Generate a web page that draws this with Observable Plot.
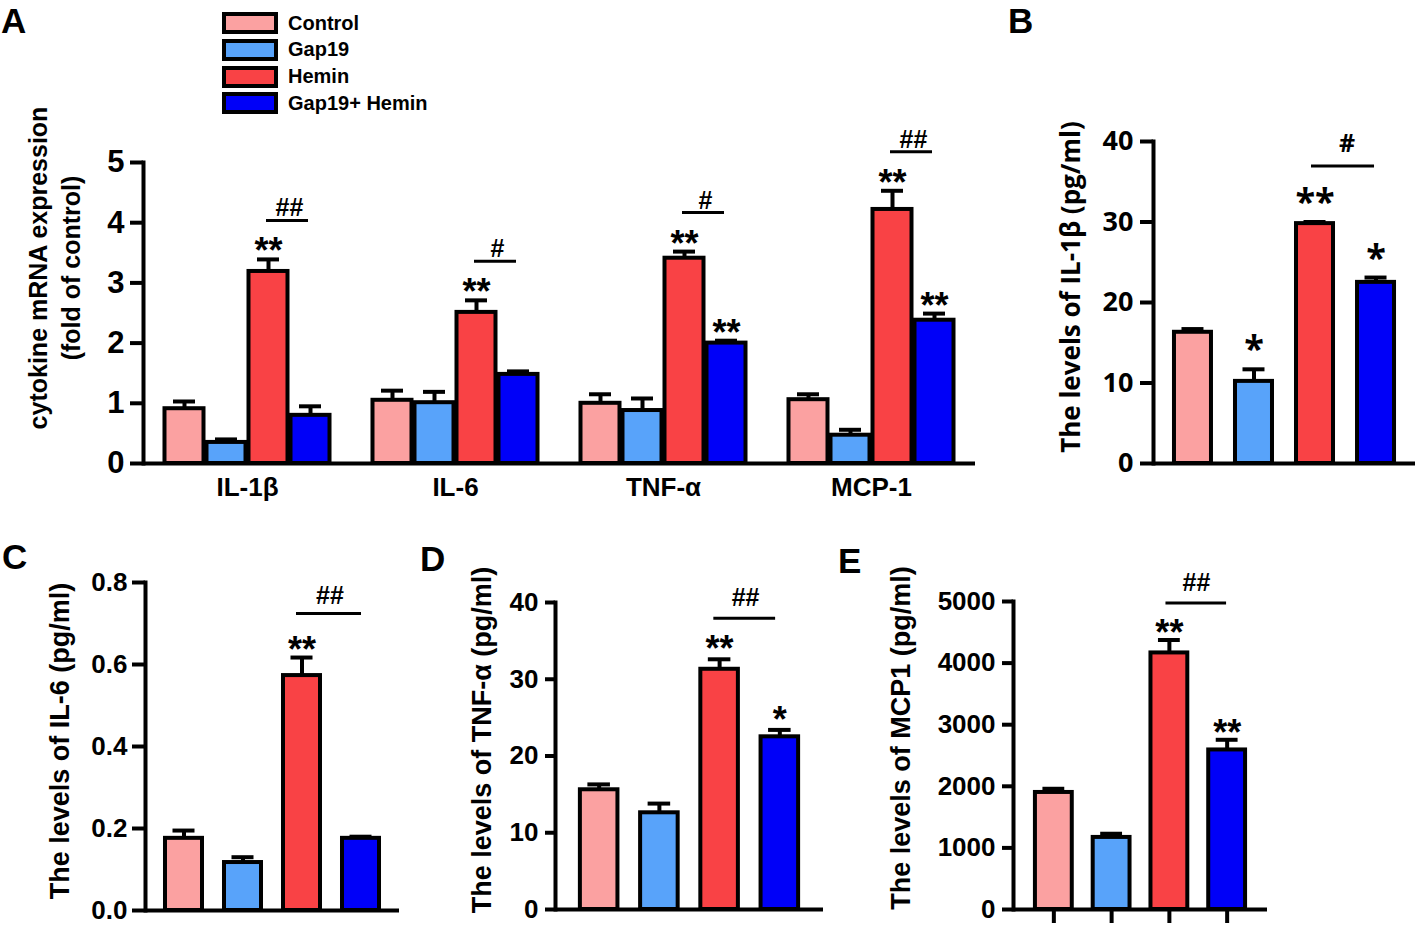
<!DOCTYPE html>
<html><head><meta charset="utf-8">
<script src="https://cdn.jsdelivr.net/npm/d3@7"></script>
<script src="https://cdn.jsdelivr.net/npm/@observablehq/plot@0.6"></script>
<style>
body{margin:0;background:#fff;}
#fig{position:relative;width:1418px;height:926px;overflow:hidden;font-family:"Liberation Sans",Arial,sans-serif;font-weight:bold;color:#000;background:#fff;}
.panel{position:absolute;}
.letter{position:absolute;font-size:35px;line-height:42px;font-weight:bold;}
.ylab{position:absolute;white-space:nowrap;text-align:center;transform:translate(-50%,-50%) rotate(-90deg);font-weight:bold;}
.leg{position:absolute;display:flex;align-items:center;font-size:20px;font-weight:bold;height:22px;}
.sw{width:56px;height:22px;box-sizing:border-box;border:4px solid #000;margin-right:10px;}
</style></head><body><div id="fig"></div>
<script>
// ---------- data ----------
const groups = ["Control", "Gap19", "Hemin", "Gap19+ Hemin"];
const groupColors = ["#FBA1A1", "#58A3FA", "#F94245", "#0000F8"];

// Panel A: cytokine mRNA expression (fold of control)
const genesA = ["IL-1β", "IL-6", "TNF-α", "MCP-1"];
const controlA = [0.91, 1.05, 1.00, 1.06];
const controlSemA = [0.12, 0.16, 0.15, 0.09];
const gap19A = [0.35, 1.01, 0.88, 0.47];
const gap19SemA = [0.05, 0.18, 0.20, 0.09];
const heminA = [3.19, 2.51, 3.41, 4.22];
const heminSemA = [0.20, 0.20, 0.11, 0.31];
const gapHeminA = [0.80, 1.48, 2.00, 2.38];
const gapHeminSemA = [0.15, 0.05, 0.04, 0.11];
const controlStarsA = ["", "", "", ""];
const gap19StarsA = ["", "", "", ""];
const heminStarsA = ["**", "**", "**", "**"];
const gapHeminStarsA = ["", "", "**", "**"];
const sigA = ["##", "#", "#", "##"];
const yTicksA = [0, 1, 2, 3, 4, 5];

// Panel B: IL-1β (pg/ml)
const meansB = [16.3, 10.2, 29.8, 22.5];
const semB = [0.4, 1.5, 0.2, 0.6];
const starsB = ["", "*", "**", "*"];
const sigB = "#";
const yTicksB = [0, 10, 20, 30, 40];

// Panel C: IL-6 (pg/ml)
const meansC = [0.176, 0.117, 0.573, 0.176];
const semC = [0.019, 0.013, 0.044, 0.004];
const starsC = ["", "", "**", ""];
const sigC = "##";
const yTicksC = [0, 0.2, 0.4, 0.6, 0.8];

// Panel D: TNF-α (pg/ml)
const meansD = [15.6, 12.6, 31.3, 22.5];
const semD = [0.7, 1.2, 1.3, 0.9];
const starsD = ["", "", "**", "*"];
const sigD = "##";
const yTicksD = [0, 10, 20, 30, 40];

// Panel E: MCP1 (pg/ml)
const meansE = [1900, 1170, 4165, 2590];
const semE = [60, 60, 210, 165];
const starsE = ["", "", "**", "**"];
const sigE = "##";
const yTicksE = [0, 1000, 2000, 3000, 4000, 5000];

// ---------- helpers ----------
const fig = document.getElementById("fig");
const ARIAL = "'Liberation Sans', Arial, sans-serif";
const OPEN = "'Open Sans', 'Liberation Sans', sans-serif";

function place(node, left, top) {
  const d = document.createElement("div");
  d.className = "panel";
  d.style.left = left + "px";
  d.style.top = top + "px";
  d.appendChild(node);
  fig.appendChild(d);
}
function addText(cls, text, left, top, extra) {
  const d = document.createElement("div");
  d.className = cls;
  d.innerHTML = text;
  d.style.left = left + "px";
  d.style.top = top + "px";
  Object.assign(d.style, extra || {});
  fig.appendChild(d);
}

// ---------- Panel A ----------
const meansA = [controlA, gap19A, heminA, gapHeminA];
const semsA = [controlSemA, gap19SemA, heminSemA, gapHeminSemA];
const starsA = [controlStarsA, gap19StarsA, heminStarsA, gapHeminStarsA];
const rowsA = [];
genesA.forEach((g, i) => groups.forEach((s, j) => rowsA.push({
  gene: g, group: s, mean: meansA[j][i], err: meansA[j][i] + semsA[j][i],
  star: starsA[j][i], sig: j === 2 ? sigA[i] : ""
})));

const plotA = Plot.plot({
  width: 1000, height: 520,
  marginLeft: 143, marginRight: 25, marginTop: 162, marginBottom: 57,
  style: {fontFamily: ARIAL, color: "#000", background: "transparent", overflow: "visible"},
  fx: {domain: genesA, padding: 0, round: false},
  x: {domain: groups, paddingInner: 0, paddingOuter: 0.476, round: false, axis: null},
  y: {domain: [0, 5], axis: null},
  color: {domain: groups, range: groupColors},
  marks: [
    Plot.ruleX(rowsA, {fx: "gene", x: "group", y1: "mean", y2: "err", strokeWidth: 4}),
    Plot.tickY(rowsA, {fx: "gene", x: "group", y: "err", strokeWidth: 4, insetLeft: 10, insetRight: 10}),
    Plot.barY(rowsA, {fx: "gene", x: "group", y: "mean", fill: "group", stroke: "#000", strokeWidth: 4, insetLeft: 1.5, insetRight: 1.5}),
    Plot.ruleY([0], {strokeWidth: 4}),
    Plot.frame({anchor: "left", strokeWidth: 4, facetAnchor: "left"}),
    Plot.axisY({ticks: yTicksA, tickFormat: d3.format("d"), tickSize: 13, tickPadding: 6, strokeWidth: 4, fontSize: 31, fontWeight: "bold", label: null, facetAnchor: "left"}),
    Plot.axisFx({anchor: "bottom", tickSize: 0, tickPadding: 14, fontSize: 26, fontWeight: "bold", label: null}),
    Plot.text(rowsA, {filter: d => d.star, fx: "gene", x: "group", y: "err", text: "star", lineAnchor: "bottom", dy: 4, fontSize: 36, fontWeight: "bold"}),
    Plot.ruleY(rowsA, {filter: d => d.sig, fx: "gene", x1: "group", x2: () => groups[3], y: "err", dy: -39, strokeWidth: 3, insetLeft: 19, insetRight: 23}),
    Plot.text(rowsA, {filter: d => d.sig, fx: "gene", x: "group", y: "err", text: "sig", dx: 21, dy: -43, lineAnchor: "bottom", fontSize: 25, fontWeight: "bold"})
  ]
});
place(plotA, 0, 0);

// ---------- small panels ----------
function barPanel(cfg) {
  const rows = groups.map((g, i) => ({
    group: g, mean: cfg.means[i], err: cfg.means[i] + cfg.sems[i],
    star: cfg.stars[i], sig: i === 2 ? cfg.sig : ""
  }));
  const marks = [
    Plot.ruleX(rows, {x: "group", y1: "mean", y2: "err", strokeWidth: 4}),
    Plot.tickY(rows, {x: "group", y: "err", strokeWidth: 4, insetLeft: 9.5, insetRight: 9.5}),
    Plot.barY(rows, {x: "group", y: "mean", fill: "group", stroke: "#000", strokeWidth: 4, insetLeft: 2, insetRight: 2}),
    Plot.ruleY([0], {strokeWidth: 4}),
    Plot.frame({anchor: "left", strokeWidth: 4}),
    Plot.axisY({ticks: cfg.yTicks, tickFormat: cfg.tickFormat, tickSize: cfg.tickSize, tickPadding: cfg.tickPadding, strokeWidth: 4, fontSize: cfg.tickFont, fontWeight: "bold", label: null}),
    Plot.text(rows, {filter: d => d.star, x: "group", y: "err", text: "star", lineAnchor: "bottom", dy: cfg.starDy, fontSize: 36, fontWeight: "bold"}),
    Plot.ruleY(rows, {filter: d => d.sig, x1: "group", x2: () => groups[3], y: "err", dy: cfg.lineDy, strokeWidth: 3, insetLeft: cfg.lineL, insetRight: cfg.lineR}),
    Plot.text(rows, {filter: d => d.sig, x: "group", y: "err", text: "sig", dx: cfg.sigDx, dy: cfg.sigDy, lineAnchor: "bottom", fontSize: 25, fontWeight: "bold"})
  ];
  if (cfg.xTicks) marks.push(Plot.axisX({tickSize: 14, strokeWidth: 4, tickFormat: () => "", label: null}));
  const p = Plot.plot({
    width: cfg.width, height: cfg.height,
    marginLeft: cfg.marginLeft, marginRight: cfg.marginRight, marginTop: cfg.marginTop, marginBottom: cfg.marginBottom,
    style: {fontFamily: cfg.font, color: "#000", background: "transparent", overflow: "visible"},
    x: {domain: groups, paddingInner: cfg.pi, paddingOuter: cfg.po, round: false, axis: cfg.xTicks ? undefined : null},
    y: {domain: cfg.yDomain, axis: null},
    color: {domain: groups, range: groupColors},
    marks
  });
  place(p, cfg.left, cfg.top);
}

// B
barPanel({left: 1000, top: 0, width: 418, height: 500, marginLeft: 153, marginRight: 3, marginTop: 141, marginBottom: 37,
  yDomain: [0, 40], yTicks: yTicksB, tickFormat: d3.format("d"), tickSize: 13, tickPadding: 7, tickFont: 27, font: OPEN,
  means: meansB, sems: semB, stars: starsB, sig: sigB, pi: 0.328, po: 0.311,
  starDy: -8, lineDy: -56, lineL: 17, lineR: 22, sigDx: 32, sigDy: -70});
// C
barPanel({left: 0, top: 540, width: 420, height: 386, marginLeft: 145, marginRight: 21, marginTop: 42, marginBottom: 16,
  yDomain: [0, 0.8], yTicks: yTicksC, tickFormat: d3.format(".1f"), tickSize: 13, tickPadding: 5, tickFont: 26, font: ARIAL,
  means: meansC, sems: semC, stars: starsC, sig: sigC, pi: 0.305, po: 0.305,
  starDy: 4, lineDy: -44, lineL: 15, lineR: 20, sigDx: 28, sigDy: -54});
// D
barPanel({left: 420, top: 540, width: 420, height: 386, marginLeft: 135, marginRight: 17, marginTop: 62, marginBottom: 17,
  yDomain: [0, 40], yTicks: yTicksD, tickFormat: d3.format("d"), tickSize: 10, tickPadding: 7, tickFont: 26, font: ARIAL,
  means: meansD, sems: semD, stars: starsD, sig: sigD, pi: 0.31, po: 0.38,
  starDy: 2, lineDy: -41, lineL: 15, lineR: 25, sigDx: 26, sigDy: -53});
// E
barPanel({left: 840, top: 540, width: 440, height: 386, marginLeft: 173, marginRight: 13, marginTop: 61, marginBottom: 17,
  yDomain: [0, 5000], yTicks: yTicksE, tickFormat: d3.format("d"), tickSize: 11, tickPadding: 7, tickFont: 26, font: ARIAL,
  means: meansE, sems: semE, stars: starsE, sig: sigE, pi: 0.293, po: 0.345, xTicks: true,
  starDy: 5, lineDy: -37, lineL: 17, lineR: 21, sigDx: 27, sigDy: -49});

// ---------- legend (panel A) ----------
groups.forEach((g, i) => {
  const d = document.createElement("div");
  d.className = "leg";
  d.style.left = "222px";
  d.style.top = (12 + i * 26.8) + "px";
  const sw = document.createElement("div");
  sw.className = "sw";
  sw.style.background = groupColors[i];
  d.appendChild(sw);
  d.appendChild(document.createTextNode(g));
  fig.appendChild(d);
});

// ---------- panel letters ----------
addText("letter", "A", 1, 0);
addText("letter", "B", 1008, 0);
addText("letter", "C", 2, 536);
addText("letter", "D", 420, 538);
addText("letter", "E", 838, 540);

// ---------- y-axis titles ----------
addText("ylab", "cytokine mRNA expression<br>(fold of control)", 55, 268, {fontSize: "25px", lineHeight: "33px"});
addText("ylab", "The levels of IL-1β (pg/ml)", 1070, 287, {fontSize: "26px", fontFamily: OPEN});
addText("ylab", "The levels of IL-6 (pg/ml)", 60, 741, {fontSize: "27px"});
addText("ylab", "The levels of TNF-α (pg/ml)", 482, 740, {fontSize: "27px"});
addText("ylab", "The levels of MCP1 (pg/ml)", 901, 738, {fontSize: "27px"});
</script>
</body></html>
